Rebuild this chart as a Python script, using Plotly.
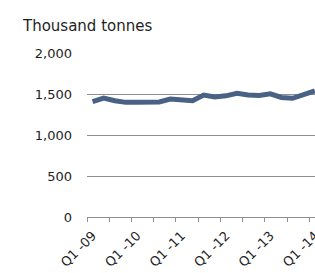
import plotly.graph_objects as go

quarters = ["Q1 -09", "Q2 -09", "Q3 -09", "Q4 -09",
            "Q1 -10", "Q2 -10", "Q3 -10", "Q4 -10",
            "Q1 -11", "Q2 -11", "Q3 -11", "Q4 -11",
            "Q1 -12", "Q2 -12", "Q3 -12", "Q4 -12",
            "Q1 -13", "Q2 -13", "Q3 -13", "Q4 -13",
            "Q1 -14"]
values = [1410, 1452, 1420, 1400, 1400, 1405, 1405, 1440, 1430, 1420,
          1490, 1465, 1480, 1510, 1490, 1485, 1505, 1460, 1450, 1500, 1540]
y_ticks = [0, 500, 1000, 1500, 2000]
y_ticklabels = ["0", "500", "1,000", "1,500", "2,000"]

idx = list(range(len(quarters)))
label_idx = [i for i, q in enumerate(quarters) if q.startswith("Q1")]
label_txt = [quarters[i] for i in label_idx]
boundary_ticks = [i - 0.5 for i in range(0, len(quarters) + 2, 2)]

fig = go.Figure()
fig.add_trace(go.Scatter(
    x=idx, y=values, mode="lines",
    line=dict(color="#4a6186", width=5),
    hoverinfo="skip", showlegend=False,
))

font = "DejaVu Sans"
fig.update_layout(
    width=315, height=273,
    margin=dict(l=87, r=0, t=53, b=56),
    paper_bgcolor="white", plot_bgcolor="white",
    font=dict(family=font, size=13, color="#1e1e1e"),
    title=dict(text="Thousand tonnes", x=23 / 315, xanchor="left",
               xref="container", yref="container",
               y=1 - 26 / 273, yanchor="middle",
               font=dict(family=font, size=15, color="#1e1e1e")),
    xaxis=dict(
        range=[-0.5, 20.02], tickmode="array",
        tickvals=label_idx, ticktext=label_txt, tickangle=-45,
        ticks="outside", ticklen=5, tickcolor="rgba(0,0,0,0)",
        ticklabeloverflow="allow",
        showgrid=False, zeroline=False,
        showline=True, linecolor="#8f8f8f", linewidth=1,
        minor=dict(tickmode="array", tickvals=boundary_ticks,
                   ticks="outside", ticklen=4, tickcolor="#8f8f8f",
                   tickwidth=1, showgrid=False),
        automargin=False,
        tickfont=dict(family=font, size=13, color="#1e1e1e"),
    ),
    yaxis=dict(
        range=[0, 2003], tickmode="array",
        tickvals=y_ticks, ticktext=y_ticklabels,
        showgrid=True, gridcolor="#8f8f8f", gridwidth=1,
        zeroline=False, showline=False, ticks="",
        ticklabelstandoff=14, automargin=False,
        tickfont=dict(family=font, size=13, color="#1e1e1e"),
    ),
)

fig.write_html("out.html", config={"displayModeBar": False},
               post_script="document.body.style.margin='0';document.body.style.overflow='hidden';")
